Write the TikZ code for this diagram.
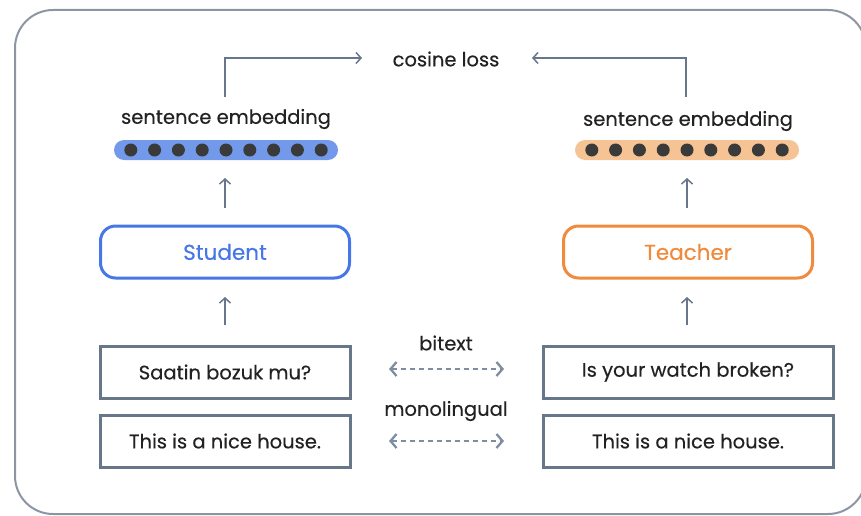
\documentclass[tikz,border=0pt]{standalone}
\usepackage{fontspec}
\setmainfont{Poppins}[FakeBold=0.35]
\usetikzlibrary{arrows.meta}
\definecolor{framec}{HTML}{8C96A3}
\definecolor{boxc}{HTML}{68768A}
\definecolor{arrc}{HTML}{68768A}
\definecolor{dashc}{HTML}{7D8DA2}
\definecolor{stublue}{HTML}{4677E6}
\definecolor{barblue}{HTML}{7399EA}
\definecolor{teaorange}{HTML}{F08A3C}
\definecolor{barorange}{HTML}{F6C395}
\definecolor{dotc}{HTML}{3A3A3A}
\definecolor{txtc}{HTML}{222222}
\begin{document}
\begin{tikzpicture}[x=1pt,y=-1pt,
  inbox/.style={draw=boxc,line width=3pt,minimum height=52pt,inner sep=0pt,font=\fontsize{19.5}{21}\selectfont,text=txtc},
  model/.style={draw,line width=3pt,rounded corners=15pt,minimum width=249pt,minimum height=52pt,inner sep=0pt,font=\fontsize{21.5}{23}\selectfont},
  lbl/.style={font=\fontsize{19.5}{21}\selectfont,text=txtc,inner sep=0pt},
  bar/.style={rounded corners=10pt,minimum width=224pt,minimum height=20pt,inner sep=0pt},
  emb/.style={circle,fill=dotc,minimum size=13pt,inner sep=0pt},
  uparr/.style={draw=arrc,line width=1.5pt,-{Straight Barb[length=5pt,width=11pt]}},
  dasharr/.style={draw=dashc,line width=2.3pt,dash pattern=on 5pt off 4pt,{Straight Barb[length=6pt,width=14pt]}-{Straight Barb[length=6pt,width=14pt]}}
]
\useasboundingbox (0,0) rectangle (861,516);
\draw[framec,line width=2pt,rounded corners=38pt] (15,10) rectangle (866,514);

% input boxes
\node[inbox,minimum width=250pt] (s1) at (225,372) {Saatin bozuk mu?};
\node[inbox,minimum width=250pt] (s2) at (225,441) {This is a nice house.};
\node[inbox,minimum width=290pt] (t1) at (688,372) {Is your watch broken?};
\node[inbox,minimum width=290pt] (t2) at (688,441) {This is a nice house.};

% models
\node[model,draw=stublue,text=stublue] (stu) at (225,252) {Student};
\node[model,draw=teaorange,text=teaorange] (tea) at (688,252) {Teacher};

% embeddings
\node[bar,fill=barblue] (sbar) at (226,150) {};
\node[bar,fill=barorange] (tbar) at (687,150) {};
\foreach \i in {0,...,8} {
  \node[emb] (sd\i) at ({226+(\i-4)*23.8},150) {};
  \node[emb] (td\i) at ({687+(\i-4)*23.8},150) {};
}
\node[lbl] (slab) at (226,119) {sentence embedding};
\node[lbl] (tlab) at (688,121) {sentence embedding};

% cosine loss
\node[lbl] (cos) at (446,59) {cosine loss};
\coordinate (sc) at (225,97);
\coordinate (tc) at (686,97);
\coordinate (sl) at (362,58);
\coordinate (tl) at (532,58);
\draw[uparr] (sc) |- (sl);
\draw[uparr] (tc) |- (tl);

% vertical arrows
\coordinate (a1s) at (225,325); \coordinate (a1e) at (225,297);
\coordinate (a2s) at (225,208); \coordinate (a2e) at (225,178);
\coordinate (b1s) at (687,325); \coordinate (b1e) at (687,297);
\coordinate (b2s) at (687,208); \coordinate (b2e) at (687,178);
\draw[uparr] (a1s) -- (a1e);
\draw[uparr] (a2s) -- (a2e);
\draw[uparr] (b1s) -- (b1e);
\draw[uparr] (b2s) -- (b2e);

% dashed links
\node[lbl] (bit) at (446,343) {bitext};
\node[lbl] (mono) at (446,411) {monolingual};
\coordinate (d1l) at (389,369); \coordinate (d1r) at (504,369);
\coordinate (d2l) at (389,441); \coordinate (d2r) at (504,441);
\draw[dasharr] (d1l) -- (d1r);
\draw[dasharr] (d2l) -- (d2r);
\end{tikzpicture}
\end{document}
